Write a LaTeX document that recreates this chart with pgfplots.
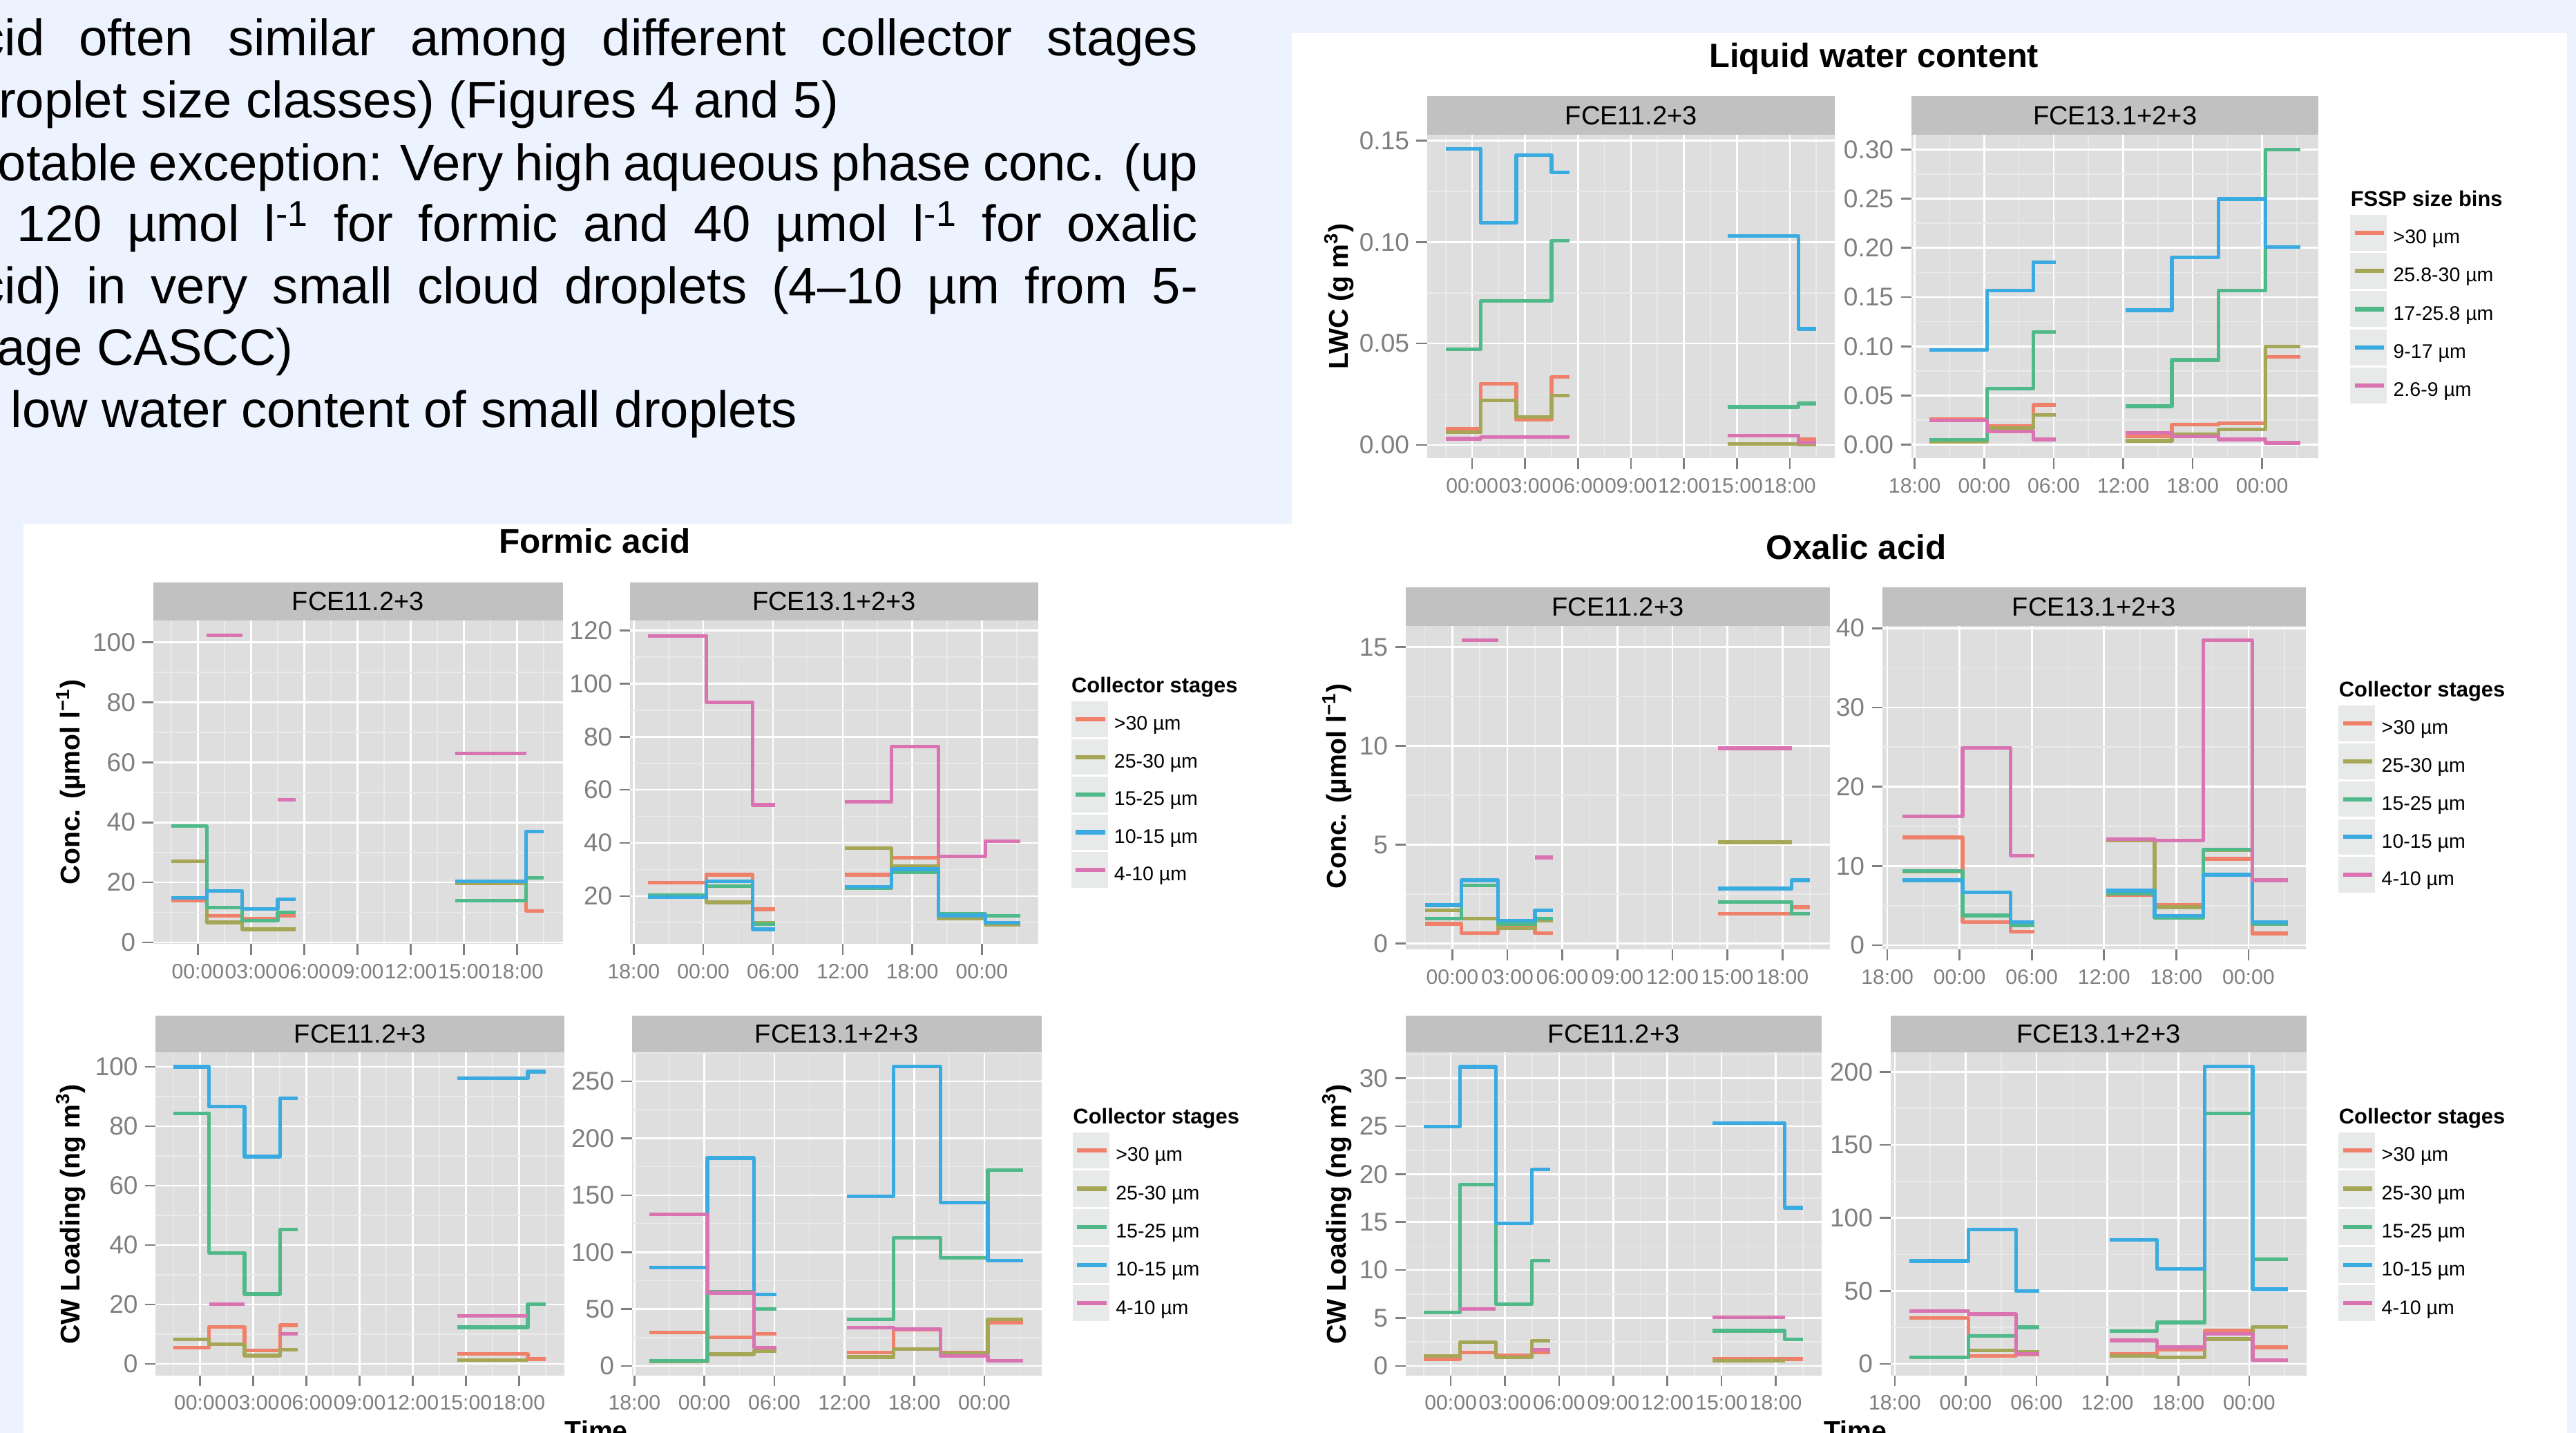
\documentclass[border=0pt]{standalone}
\usepackage{fontspec}
\setmainfont{Liberation Sans}
\usepackage{pgfplots}
\pgfplotsset{compat=1.18}

\definecolor{slidebg}{HTML}{EDF3FE}
\definecolor{panelbg}{HTML}{DEDEDE}
\definecolor{gridminor}{HTML}{EAEAEA}
\definecolor{stripbg}{HTML}{C1C1C1}
\definecolor{keybg}{HTML}{E8E9E9}
\definecolor{tickgray}{HTML}{7F7F7F}
\definecolor{gg0}{HTML}{EF816B}
\definecolor{gg1}{HTML}{A5A756}
\definecolor{gg2}{HTML}{50B98A}
\definecolor{gg3}{HTML}{3AABE1}
\definecolor{gg4}{HTML}{D973B1}

\pgfplotsset{
  gg/.style={
    scale only axis, anchor=north west,
    /pgf/number format/assume math mode=true,
    axis background/.style={fill=panelbg},
    axis line style={draw=none},
    xmajorgrids=true, ymajorgrids=true, xminorgrids=true, yminorgrids=true,
    major grid style={draw=white, line width=1.1pt},
    minor grid style={draw=gridminor, line width=0.7pt},
    tick align=outside, tick pos=left,
    major tick length=6.5pt, minor tick length=0pt,
    tick style={draw=tickgray, line width=1.1pt},
    xticklabel style={font=\fontsize{12.7pt}{13pt}\selectfont, text=tickgray, inner sep=0pt, yshift=-5.5pt},
    yticklabel style={font=\fontsize{15.6pt}{16pt}\selectfont, text=tickgray, inner sep=0pt, xshift=-4.2pt},
    unbounded coords=jump,
    every axis plot/.append style={const plot, line width=2.2pt, line join=round},
  },
  fceA/.style={xtick={0,3,6,9,12,15,18}, xticklabels={00:00,03:00,06:00,09:00,12:00,15:00,18:00}, minor xtick={-1.5,1.5,4.5,7.5,10.5,13.5,16.5,19.5}},
  fceB/.style={xtick={0,6,12,18,24,30}, xticklabels={18:00,00:00,06:00,12:00,18:00,00:00}, minor xtick={3,9,15,21,27,33}},
}

\newcommand\strip[5]{%
  \fill[stripbg] (#1pt,-#3pt) rectangle (#2pt,-#4pt);
  \node[font=\fontsize{16pt}{16pt}\selectfont, inner sep=0pt] at ({(#1+#2)/2*1pt},{-(#3+#4)/2*1pt}) {#5};}

\newcommand\gglegend[5]{%
  \node[anchor=base west, inner sep=0pt, font=\bfseries\fontsize{13pt}{13pt}\selectfont] at (#1pt,{-(#2-5.4)*1pt}) {#4};
  \foreach \lab [count=\i from 0] in {#5} {
    \fill[keybg] ({#1*1pt},{-(#2+\i*#3)*1pt}) rectangle ({(#1+22.3)*1pt},{-(#2+\i*#3+#3-1.3)*1pt});
    \draw[draw=gg\i, line width=2.6pt] ({(#1+2.7)*1pt},{-(#2+\i*#3+(#3-1.3)/2)*1pt}) -- ++(17.9pt,0);
    \node[anchor=base west, inner sep=0pt, font=\fontsize{12pt}{12pt}\selectfont] at ({(#1+26)*1pt},{-(#2+\i*#3+(#3-1.3)/2+6.6)*1pt}) {\lab};
  }}

\newcommand\slidefont{\fontsize{31.2pt}{37.7pt}\selectfont}

\begin{document}
\begin{tikzpicture}
\useasboundingbox (0,0) rectangle (1568pt,-872pt);
\fill[slidebg] (0,0) rectangle (1568pt,-872pt);
\fill[white] (786.4pt,-20pt) rectangle (1562.5pt,-872pt);
\fill[white] (14.1pt,-318.8pt) rectangle (1562.5pt,-872pt);

% slide text
\begin{scope}
\clip (0,0) rectangle (786pt,-318pt);
\node[anchor=base west, inner sep=0pt, font=\slidefont] at (-13pt,-33.8pt) {\makebox[742pt][s]{cid often similar among different collector stages}};
\node[anchor=base west, inner sep=0pt, font=\slidefont] at (-1pt,-71.7pt) {roplet size classes) (Figures 4 and 5)};
\node[anchor=base west, inner sep=0pt, font=\slidefont] at (-1.5pt,-109.8pt) {\makebox[730.5pt][s]{otable exception: Very high aqueous phase conc. (up}};
\node[anchor=base west, inner sep=0pt, font=\slidefont] at (10pt,-146.8pt) {\makebox[719pt][s]{120 µmol l\textsuperscript{-1} for formic and 40 µmol l\textsuperscript{-1} for oxalic}};
\node[anchor=base west, inner sep=0pt, font=\slidefont] at (-13pt,-184.7pt) {\makebox[742pt][s]{cid) in very small cloud droplets (4–10 µm from 5-}};
\node[anchor=base west, inner sep=0pt, font=\slidefont] at (-2pt,-222.1pt) {age CASCC)};
\node[anchor=base west, inner sep=0pt, font=\slidefont] at (6.4pt,-260.2pt) {low water content of small droplets};
\end{scope}

% titles
\node[anchor=base, font=\bfseries\fontsize{20.5pt}{20.5pt}\selectfont] at (1140.7pt,-40.8pt) {Liquid water content};
\node[anchor=base, font=\bfseries\fontsize{20.8pt}{20.8pt}\selectfont] at (362pt,-336.5pt) {Formic acid};
\node[anchor=base, font=\bfseries\fontsize{20.8pt}{20.8pt}\selectfont] at (1129.9pt,-340.3pt) {Oxalic acid};
\node[anchor=base, font=\bfseries\fontsize{16.5pt}{16.5pt}\selectfont] at (363pt,-876.5pt) {Time};
\node[anchor=base, font=\bfseries\fontsize{16.5pt}{16.5pt}\selectfont] at (1129.4pt,-876.5pt) {Time};

% y labels
\node[rotate=90, font=\bfseries\fontsize{16.5pt}{16.5pt}\selectfont] at (815pt,-180.4pt) {LWC (g m\textsuperscript{3})};
\node[rotate=90, font=\bfseries\fontsize{16.5pt}{16.5pt}\selectfont] at (43pt,-476pt) {Conc. (µmol l\textsuperscript{−1})};
\node[rotate=90, font=\bfseries\fontsize{16.5pt}{16.5pt}\selectfont] at (43pt,-739pt) {CW Loading (ng m\textsuperscript{3})};
\node[rotate=90, font=\bfseries\fontsize{16.5pt}{16.5pt}\selectfont] at (814pt,-478.5pt) {Conc. (µmol l\textsuperscript{−1})};
\node[rotate=90, font=\bfseries\fontsize{16.5pt}{16.5pt}\selectfont] at (814pt,-739pt) {CW Loading (ng m\textsuperscript{3})};

% strips
\strip{868.7}{1117.0}{58.5}{82}{FCE11.2+3}
\strip{1163.5}{1411.3}{58.5}{82}{FCE13.1+2+3}
\strip{93.3}{342.5}{354.6}{377.8}{FCE11.2+3}
\strip{383.6}{631.9}{354.6}{377.8}{FCE13.1+2+3}
\strip{94.8}{343.5}{618.1}{640.4}{FCE11.2+3}
\strip{384.7}{633.9}{618.1}{640.4}{FCE13.1+2+3}
\strip{855.7}{1113.9}{357.4}{381}{FCE11.2+3}
\strip{1145.8}{1403.5}{357.4}{381}{FCE13.1+2+3}
\strip{855.7}{1108.9}{618.1}{640.4}{FCE11.2+3}
\strip{1150.8}{1404.1}{618.1}{640.4}{FCE13.1+2+3}

% legends
\gglegend{1430.6}{130.8}{23.2}{FSSP size bins}{>30 µm,25.8-30 µm,17-25.8 µm,9-17 µm,2.6-9 µm}
\gglegend{652}{427}{22.9}{Collector stages}{>30 µm,25-30 µm,15-25 µm,10-15 µm,4-10 µm}
\gglegend{653}{689.2}{23.25}{Collector stages}{>30 µm,25-30 µm,15-25 µm,10-15 µm,4-10 µm}
\gglegend{1423.5}{429.5}{23}{Collector stages}{>30 µm,25-30 µm,15-25 µm,10-15 µm,4-10 µm}
\gglegend{1423.5}{689.2}{23.25}{Collector stages}{>30 µm,25-30 µm,15-25 µm,10-15 µm,4-10 µm}

% ---------- LWC FCE11
\begin{axis}[gg, fceA, at={(868.7pt,-82pt)}, width=248.3pt, height=196.9pt,
  xmin=-2.55, xmax=20.57, ymin=-0.0066, ymax=0.1529,
  ytick={0,0.05,0.1,0.15}, yticklabels={0.00,0.05,0.10,0.15}, minor ytick={0.025,0.075,0.125}]
\addplot[gg0] coordinates {(-1.5,0.0078)(0.5,0.0301)(2.5,0.0124)(4.5,0.0334)(5.5,0.0334)(10,nan)(14.5,0.0046)(18.5,0.0028)(19.5,0.0028)};
\addplot[gg1] coordinates {(-1.5,0.0063)(0.5,0.022)(2.5,0.0137)(4.5,0.0244)(5.5,0.0244)(10,nan)(14.5,0.0005)(18.5,0.0003)(19.5,0.0003)};
\addplot[gg2] coordinates {(-1.5,0.0472)(0.5,0.0711)(2.5,0.0711)(4.5,0.1006)(5.5,0.1006)(10,nan)(14.5,0.0187)(18.5,0.0204)(19.5,0.0204)};
\addplot[gg3] coordinates {(-1.5,0.146)(0.5,0.1095)(2.5,0.1428)(4.5,0.1343)(5.5,0.1343)(10,nan)(14.5,0.1030)(18.5,0.0572)(19.5,0.0572)};
\addplot[gg4] coordinates {(-1.5,0.0030)(0.5,0.0039)(2.5,0.0039)(4.5,0.0039)(5.5,0.0039)(10,nan)(14.5,0.0046)(18.5,0.0012)(19.5,0.0012)};
\end{axis}
% ---------- LWC FCE13
\begin{axis}[gg, fceB, at={(1163.5pt,-82pt)}, width=247.8pt, height=196.9pt,
  xmin=-0.28, xmax=34.87, ymin=-0.0137, ymax=0.3149,
  ytick={0,0.05,0.1,0.15,0.2,0.25,0.3}, yticklabels={0.00,0.05,0.10,0.15,0.20,0.25,0.30}, minor ytick={0.025,0.075,0.125,0.175,0.225,0.275}]
\addplot[gg0] coordinates {(1.25,0.0262)(6.25,0.0187)(10.25,0.0405)(12.2,0.0405)(15,nan)(18.2,0.0088)(22.2,0.0204)(26.25,0.0221)(30.3,0.0895)(33.3,0.0895)};
\addplot[gg1] coordinates {(1.25,0.0034)(6.25,0.017)(10.25,0.0306)(12.2,0.0306)(15,nan)(18.2,0.0041)(22.2,0.0105)(26.25,0.0156)(30.3,0.0997)(33.3,0.0997)};
\addplot[gg2] coordinates {(1.25,0.0051)(6.25,0.0571)(10.25,0.1146)(12.2,0.1146)(15,nan)(18.2,0.0391)(22.2,0.0861)(26.25,0.1568)(30.3,0.30)(33.3,0.30)};
\addplot[gg3] coordinates {(1.25,0.0963)(6.25,0.1568)(10.25,0.1857)(12.2,0.1857)(15,nan)(18.2,0.1367)(22.2,0.1905)(26.25,0.2497)(30.3,0.2007)(33.3,0.2007)};
\addplot[gg4] coordinates {(1.25,0.0245)(6.25,0.0136)(10.25,0.0054)(12.2,0.0054)(15,nan)(18.2,0.0122)(22.2,0.0088)(26.25,0.0054)(30.3,0.002)(33.3,0.002)};
\end{axis}

% ---------- Formic conc FCE11
\begin{axis}[gg, fceA, at={(93.3pt,-377.8pt)}, width=249.2pt, height=196.6pt,
  xmin=-2.51, xmax=20.56, ymin=-0.44, ymax=107.1,
  ytick={0,20,40,60,80,100}, minor ytick={10,30,50,70,90}]
\addplot[gg0] coordinates {(-1.5,13.9)(0.5,8.9)(2.5,7.9)(4.5,8.9)(5.5,8.9)(10,nan)(14.5,13.9)(18.5,10.5)(19.5,10.5)};
\addplot[gg1] coordinates {(-1.5,27.1)(0.5,6.7)(2.5,4.4)(4.5,4.4)(5.5,4.4)(10,nan)(14.5,19.8)(18.5,19.8)};
\addplot[gg2] coordinates {(-1.5,38.7)(0.5,11.7)(2.5,7.3)(4.5,10.0)(5.5,10.0)(10,nan)(14.5,13.9)(18.5,21.6)(19.5,21.6)};
\addplot[gg3] coordinates {(-1.5,14.9)(0.5,17.2)(2.5,11.1)(4.5,14.4)(5.5,14.4)(10,nan)(14.5,20.4)(18.5,37.0)(19.5,37.0)};
\addplot[gg4] coordinates {(0.5,102.2)(2.5,102.2)(3.5,nan)(4.5,47.5)(5.5,47.5)(10,nan)(14.5,62.9)(18.5,62.9)};
\end{axis}
% ---------- Formic conc FCE13
\begin{axis}[gg, fceB, at={(383.6pt,-377.8pt)}, width=248.3pt, height=196.6pt,
  xmin=-0.30, xmax=34.84, ymin=2.0, ymax=123.65,
  ytick={20,40,60,80,100,120}, minor ytick={10,30,50,70,90,110}]
\addplot[gg0] coordinates {(1.25,25.0)(6.25,28.0)(10.25,15.0)(12.2,15.0)(15,nan)(18.2,28.0)(22.2,34.4)(26.25,13.0)(30.3,10.0)(33.3,10.0)};
\addplot[gg1] coordinates {(1.25,19.5)(6.25,17.6)(10.25,10.0)(12.2,10.0)(15,nan)(18.2,38.1)(22.2,31.3)(26.25,11.5)(30.3,9.2)(33.3,9.2)};
\addplot[gg2] coordinates {(1.25,20.2)(6.25,23.7)(10.25,9.4)(12.2,9.4)(15,nan)(18.2,22.9)(22.2,28.9)(26.25,13.3)(30.3,12.6)(33.3,12.6)};
\addplot[gg3] coordinates {(1.25,19.5)(6.25,25.6)(10.25,7.5)(12.2,7.5)(15,nan)(18.2,23.5)(22.2,30.1)(26.25,12.7)(30.3,10.0)(33.3,10.0)};
\addplot[gg4] coordinates {(1.25,118.0)(6.25,92.9)(10.25,54.3)(12.2,54.3)(15,nan)(18.2,55.5)(22.2,76.2)(26.25,35.0)(30.3,40.6)(33.3,40.6)};
\end{axis}

% ---------- Formic CW FCE11
\begin{axis}[gg, fceA, at={(94.8pt,-640.4pt)}, width=248.7pt, height=196.6pt,
  xmin=-2.51, xmax=20.56, ymin=-3.87, ymax=104.9,
  ytick={0,20,40,60,80,100}, minor ytick={10,30,50,70,90}]
\addplot[gg0] coordinates {(-1.5,5.5)(0.5,12.4)(2.5,4.6)(4.5,13.0)(5.5,13.0)(10,nan)(14.5,3.3)(18.5,1.6)(19.5,1.6)};
\addplot[gg1] coordinates {(-1.5,8.3)(0.5,6.7)(2.5,2.8)(4.5,4.8)(5.5,4.8)(10,nan)(14.5,1.2)(18.5,1.2)};
\addplot[gg2] coordinates {(-1.5,84.3)(0.5,37.4)(2.5,23.5)(4.5,45.2)(5.5,45.2)(10,nan)(14.5,12.3)(18.5,20.1)(19.5,20.1)};
\addplot[gg3] coordinates {(-1.5,100.0)(0.5,86.6)(2.5,69.8)(4.5,89.4)(5.5,89.4)(10,nan)(14.5,96.1)(18.5,98.4)(19.5,98.4)};
\addplot[gg4] coordinates {(0.5,20.1)(2.5,20.1)(3.5,nan)(4.5,10.1)(5.5,10.1)(10,nan)(14.5,16.2)(18.5,16.2)};
\end{axis}
% ---------- Formic CW FCE13
\begin{axis}[gg, fceB, at={(384.7pt,-640.4pt)}, width=249.2pt, height=196.6pt,
  xmin=-0.21, xmax=34.9, ymin=-8.2, ymax=275.5,
  ytick={0,50,100,150,200,250}, minor ytick={25,75,125,175,225,275}]
\addplot[gg0] coordinates {(1.25,29.4)(6.25,25.1)(10.25,28.1)(12.2,28.1)(15,nan)(18.2,11.7)(22.2,32.0)(26.25,11.7)(30.3,38.2)(33.3,38.2)};
\addplot[gg1] coordinates {(1.25,4.0)(6.25,10.4)(10.25,13.4)(12.2,13.4)(15,nan)(18.2,7.9)(22.2,14.7)(26.25,11.0)(30.3,40.8)(33.3,40.8)};
\addplot[gg2] coordinates {(1.25,4.6)(6.25,65.1)(10.25,49.9)(12.2,49.9)(15,nan)(18.2,41.0)(22.2,112.5)(26.25,95.2)(30.3,172.2)(33.3,172.2)};
\addplot[gg3] coordinates {(1.25,86.4)(6.25,182.6)(10.25,62.8)(12.2,62.8)(15,nan)(18.2,148.9)(22.2,262.9)(26.25,143.4)(30.3,92.5)(33.3,92.5)};
\addplot[gg4] coordinates {(1.25,133.0)(6.25,64.3)(10.25,16.2)(12.2,16.2)(15,nan)(18.2,33.9)(22.2,32.4)(26.25,8.9)(30.3,4.8)(33.3,4.8)};
\end{axis}

% ---------- Oxalic conc FCE11
\begin{axis}[gg, fceA, at={(855.7pt,-381pt)}, width=258.2pt, height=196.8pt,
  xmin=-2.54, xmax=20.59, ymin=-0.30, ymax=16.06,
  ytick={0,5,10,15}, minor ytick={2.5,7.5,12.5}]
\addplot[gg0] coordinates {(-1.5,1.0)(0.5,0.52)(2.5,0.87)(4.5,0.52)(5.5,0.52)(10,nan)(14.5,1.51)(18.5,1.84)(19.5,1.84)};
\addplot[gg1] coordinates {(-1.5,1.67)(0.5,1.26)(2.5,0.76)(4.5,1.15)(5.5,1.15)(10,nan)(14.5,5.12)(18.5,5.12)};
\addplot[gg2] coordinates {(-1.5,1.26)(0.5,2.93)(2.5,0.98)(4.5,1.25)(5.5,1.25)(10,nan)(14.5,2.11)(18.5,1.51)(19.5,1.51)};
\addplot[gg3] coordinates {(-1.5,1.94)(0.5,3.20)(2.5,1.15)(4.5,1.69)(5.5,1.69)(10,nan)(14.5,2.78)(18.5,3.2)(19.5,3.2)};
\addplot[gg4] coordinates {(0.5,15.36)(2.5,15.36)(3.5,nan)(4.5,4.35)(5.5,4.35)(10,nan)(14.5,9.88)(18.5,9.88)};
\end{axis}
% ---------- Oxalic conc FCE13
\begin{axis}[gg, fceB, at={(1145.8pt,-381pt)}, width=257.7pt, height=196.8pt,
  xmin=-0.41, xmax=34.76, ymin=-0.52, ymax=40.27,
  ytick={0,10,20,30,40}, minor ytick={5,15,25,35}]
\addplot[gg0] coordinates {(1.25,13.6)(6.25,2.96)(10.25,1.71)(12.2,1.71)(15,nan)(18.2,6.3)(22.2,5.1)(26.25,10.9)(30.3,1.5)(33.3,1.5)};
\addplot[gg1] coordinates {(1.25,9.3)(6.25,3.7)(10.25,2.5)(12.2,2.5)(15,nan)(18.2,13.2)(22.2,4.8)(26.25,12.0)(30.3,2.7)(33.3,2.7)};
\addplot[gg2] coordinates {(1.25,9.4)(6.25,3.77)(10.25,2.53)(12.2,2.53)(15,nan)(18.2,6.5)(22.2,3.5)(26.25,12.1)(30.3,2.7)(33.3,2.7)};
\addplot[gg3] coordinates {(1.25,8.2)(6.25,6.7)(10.25,2.96)(12.2,2.96)(15,nan)(18.2,6.9)(22.2,3.7)(26.25,8.9)(30.3,2.96)(33.3,2.96)};
\addplot[gg4] coordinates {(1.25,16.3)(6.25,24.9)(10.25,11.3)(12.2,11.3)(15,nan)(18.2,13.4)(22.2,13.2)(26.25,38.5)(30.3,8.2)(33.3,8.2)};
\end{axis}

% ---------- Oxalic CW FCE11
\begin{axis}[gg, fceA, at={(855.7pt,-640.4pt)}, width=253.2pt, height=196.6pt,
  xmin=-2.49, xmax=20.55, ymin=-0.98, ymax=32.71,
  ytick={0,5,10,15,20,25,30}, minor ytick={2.5,7.5,12.5,17.5,22.5,27.5,32.5}]
\addplot[gg0] coordinates {(-1.5,0.72)(0.5,1.38)(2.5,1.1)(4.5,1.38)(5.5,1.38)(10,nan)(14.5,0.72)(18.5,0.72)(19.5,0.72)};
\addplot[gg1] coordinates {(-1.5,1.05)(0.5,2.46)(2.5,0.9)(4.5,2.6)(5.5,2.6)(10,nan)(14.5,0.54)(18.5,0.54)};
\addplot[gg2] coordinates {(-1.5,5.56)(0.5,18.9)(2.5,6.43)(4.5,10.97)(5.5,10.97)(10,nan)(14.5,3.67)(18.5,2.77)(19.5,2.77)};
\addplot[gg3] coordinates {(-1.5,24.98)(0.5,31.2)(2.5,14.9)(4.5,20.5)(5.5,20.5)(10,nan)(14.5,25.3)(18.5,16.5)(19.5,16.5)};
\addplot[gg4] coordinates {(0.5,5.92)(2.5,5.92)(3.5,nan)(4.5,1.71)(5.5,1.71)(10,nan)(14.5,5.05)(18.5,5.05)};
\end{axis}
% ---------- Oxalic CW FCE13
\begin{axis}[gg, fceB, at={(1150.8pt,-640.4pt)}, width=253.3pt, height=196.6pt,
  xmin=-0.35, xmax=34.87, ymin=-7.9, ymax=213.4,
  ytick={0,50,100,150,200}, minor ytick={25,75,125,175}]
\addplot[gg0] coordinates {(1.25,31.6)(6.25,5.5)(10.25,6.5)(12.2,6.5)(15,nan)(18.2,6.8)(22.2,9.9)(26.25,22.7)(30.3,11.3)(33.3,11.3)};
\addplot[gg1] coordinates {(1.25,4.5)(6.25,9.0)(10.25,8.1)(12.2,8.1)(15,nan)(18.2,5.4)(22.2,4.5)(26.25,17.0)(30.3,25.1)(33.3,25.1)};
\addplot[gg2] coordinates {(1.25,4.4)(6.25,19.2)(10.25,25.0)(12.2,25.0)(15,nan)(18.2,22.6)(22.2,28.3)(26.25,171.6)(30.3,71.5)(33.3,71.5)};
\addplot[gg3] coordinates {(1.25,70.5)(6.25,92.0)(10.25,49.9)(12.2,49.9)(15,nan)(18.2,84.9)(22.2,64.9)(26.25,203.6)(30.3,51.1)(33.3,51.1)};
\addplot[gg4] coordinates {(1.25,36.0)(6.25,34.0)(10.25,6.9)(12.2,6.9)(15,nan)(18.2,16.0)(22.2,11.3)(26.25,20.5)(30.3,2.4)(33.3,2.4)};
\end{axis}
\end{tikzpicture}
\end{document}
